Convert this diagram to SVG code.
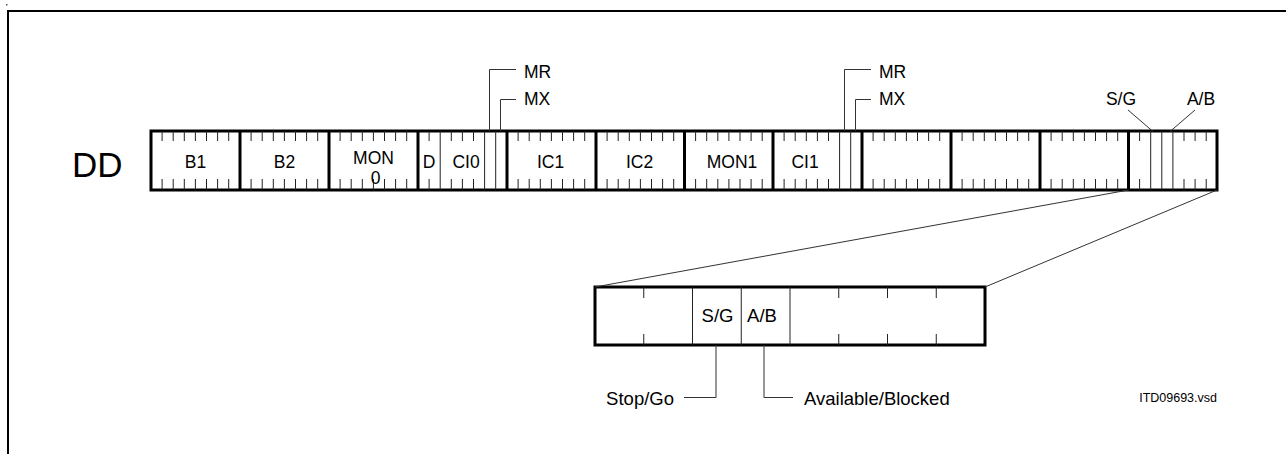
<svg xmlns="http://www.w3.org/2000/svg" xmlns:xlink="http://www.w3.org/1999/xlink" width="1286" height="454" viewBox="0 0 1286 454">
<style>
text{font-family:"Liberation Sans",Arial,sans-serif;fill:#000}
.lb{font-size:17.5px;text-anchor:middle}
.sm{font-size:17.5px}
.lg{font-size:18.5px}
.thick{fill:none;stroke:#000;stroke-width:3}
.thin{fill:none;stroke:#222;stroke-width:1}
.ld{fill:none;stroke:#333;stroke-width:1}
</style>
<defs>
<path id="t7" class="thin" d="M11.1 0v10M22.2 0v10M33.3 0v10M44.4 0v10M55.5 0v10M66.6 0v10M77.7 0v10M11.1 48v11M22.2 48v11M33.3 48v11M44.4 48v11M55.5 48v11M66.6 48v11M77.7 48v11"/>
</defs>
<rect x="6" y="4" width="1.5" height="1.5" fill="#555"/>
<path d="M8 454V11H1286" fill="none" stroke="#000" stroke-width="2"/>
<text x="72" y="177" style="font-size:35px">DD</text>

<g id="bar">
<rect x="151" y="131" width="1066" height="59" class="thick"/>
<path class="thick" d="M240 131v59M329 131v59M418 131v59M507 131v59M596 131v59M684.5 131v59M773 131v59M862 131v59M951 131v59M1040 131v59M1128.5 131v59"/>
</g>
<g id="B1"><use xlink:href="#t7" transform="translate(151,131)"/><text class="lb" x="195.5" y="168">B1</text></g>
<g id="B2"><use xlink:href="#t7" transform="translate(240,131)"/><text class="lb" x="284.5" y="168">B2</text></g>
<g id="MON0"><use xlink:href="#t7" transform="translate(329,131)"/><text class="lb" x="373.5" y="163.5">MON</text><text class="lb" x="375.5" y="184">0</text></g>
<g id="byte4">
<path class="thin" d="M429.1 131v10M451.3 131v10M462.4 131v10M473.5 131v10M429.1 179v11M451.3 179v11M462.4 179v11M473.5 179v11M440.2 131v59M484.6 131v59M495.7 131v59"/>
<text class="lb" x="429" y="168">D</text><text class="lb" x="466" y="168">CI0</text>
</g>
<g id="IC1"><use xlink:href="#t7" transform="translate(507,131)"/><text class="lb" x="550.5" y="168">IC1</text></g>
<g id="IC2"><use xlink:href="#t7" transform="translate(596,131)"/><text class="lb" x="639.5" y="168">IC2</text></g>
<g id="MON1"><use xlink:href="#t7" transform="translate(684.5,131)"/><text class="lb" x="732" y="168">MON1</text></g>
<g id="byte9">
<path class="thin" d="M784.1 131v10M795.2 131v10M806.3 131v10M817.4 131v10M828.5 131v10M784.1 179v11M795.2 179v11M806.3 179v11M817.4 179v11M828.5 179v11M839.6 131v59M850.7 131v59"/>
<text class="lb" x="805" y="168">CI1</text>
</g>
<g id="byte10"><use xlink:href="#t7" transform="translate(862,131)"/></g>
<g id="byte11"><use xlink:href="#t7" transform="translate(951,131)"/></g>
<g id="byte12a"><use xlink:href="#t7" transform="translate(1040,131)"/></g>
<g id="byte12">
<path class="thin" d="M1139.6 131v10M1184 131v10M1195.1 131v10M1206.2 131v10M1139.6 179v11M1184 179v11M1195.1 179v11M1206.2 179v11M1150.7 131v59M1161.8 131v59M1172.9 131v59"/>
</g>

<g id="expanded">
<rect x="595" y="287" width="390" height="58" class="thick"/>
<path class="thin" d="M692.5 287v58M741.25 287v58M790 287v58M643.75 287v11M838.75 287v11M887.5 287v11M936.25 287v11M643.75 334v11M838.75 334v11M887.5 334v11M936.25 334v11"/>
<text class="lb" x="717.5" y="322" style="font-size:18.5px">S/G</text>
<text class="lb" x="762" y="322" style="font-size:18.5px">A/B</text>
</g>

<g id="connectors">
<path class="ld" d="M489.5 131V69.5H516M500.5 131V99.5H516"/>
<path class="ld" d="M844.5 131V69.5H871M855.5 131V99.5H871"/>
<path class="ld" d="M1128 110L1153 131.5M1195 110L1170 131.5"/>
<path class="ld" d="M1128.5 190L595 287M1217 190L985 287"/>
<path class="ld" d="M716 345V397.5H684M764 345V397.5H793"/>
</g>

<g id="labels">
<text class="sm" x="524" y="77.5">MR</text>
<text class="sm" x="524" y="105">MX</text>
<text class="sm" x="879" y="77.5">MR</text>
<text class="sm" x="879" y="105">MX</text>
<text class="lb" x="1121" y="105">S/G</text>
<text class="lb" x="1201" y="105">A/B</text>
<text class="lg" x="674" y="405" text-anchor="end">Stop/Go</text>
<text class="lg" x="804" y="405">Available/Blocked</text>
<text x="1217" y="401.5" text-anchor="end" style="font-size:12.5px">ITD09693.vsd</text>
</g>
</svg>
